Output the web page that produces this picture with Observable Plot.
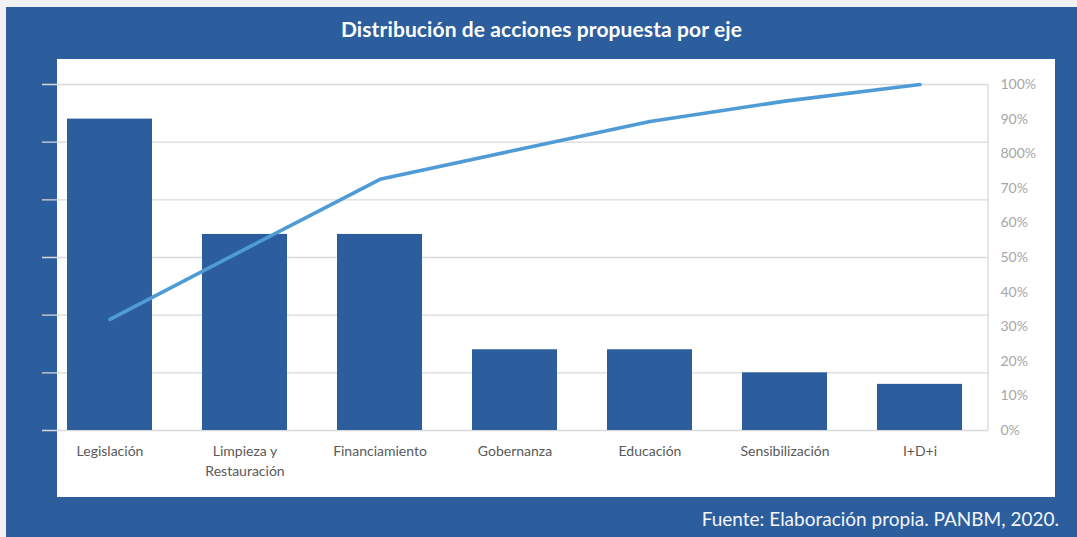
<!DOCTYPE html>
<html>
<head>
<meta charset="utf-8">
<script src="https://cdn.jsdelivr.net/npm/d3@7"></script>
<script src="https://cdn.jsdelivr.net/npm/@observablehq/plot@0.6"></script>
<style>
  html, body { margin: 0; padding: 0; background: #f1f1f3; }
  #page { position: relative; width: 1077px; height: 537px; overflow: hidden; font-family: Lato, "Open Sans", sans-serif; }
  #frame { position: absolute; left: 6px; top: 7px; width: 1071px; height: 530px; background: #2c5d9d; }
  #panel { position: absolute; left: 57px; top: 59px; width: 998px; height: 438px; background: #ffffff; }
  #title { position: absolute; left: 6px; width: 1071px; top: 16px; text-align: center; color: #ffffff; font-weight: 700; font-size: 21px; letter-spacing: 0.1px; }
  #caption { position: absolute; right: 18px; top: 507px; color: #f4f6fb; font-size: 19px; }
  #chart { position: absolute; left: 0; top: 0; }
</style>
</head>
<body>
<div id="page">
  <div id="frame"></div>
  <div id="panel"></div>
  <div id="title">Distribución de acciones propuesta por eje</div>
  <div id="chart"></div>
  <div id="caption">Fuente: Elaboración propia. PANBM, 2020.</div>
</div>
<script>
// Categories (axis labels), counts (bars, left axis) and cumulative percentage (line, right axis)
const categories = ["Legislación", "Limpieza y\nRestauración", "Financiamiento", "Gobernanza", "Educación", "Sensibilización", "I+D+i"];
const counts = [27, 17, 17, 7, 7, 5, 4];
const cumulativePct = [32.1, 52.4, 72.6, 81.0, 89.3, 95.2, 100];
const leftTicks = [0, 5, 10, 15, 20, 25, 30];
const rightTickPct = [0, 10, 20, 30, 40, 50, 60, 70, 80, 90, 100];
const rightTickLabels = ["0%", "10%", "20%", "30%", "40%", "50%", "60%", "70%", "800%", "90%", "100%"];

const yMax = 30;
const toY = p => p * yMax / 100;
const rows = categories.map((c, i) => ({cat: c, count: counts[i], cum: cumulativePct[i]}));
const rightTicks = rightTickPct.map(toY);

const rightLine = (index, scales, values, dims) => {
  const ns = "http://www.w3.org/2000/svg";
  const l = document.createElementNS(ns, "line");
  const x = dims.width - dims.marginRight;
  l.setAttribute("x1", x); l.setAttribute("x2", x);
  l.setAttribute("y1", dims.marginTop); l.setAttribute("y2", dims.height - dims.marginBottom);
  l.setAttribute("stroke", "#d9d9d9"); l.setAttribute("stroke-width", 1.3);
  return l;
};

const chart = Plot.plot({
  width: 1077,
  height: 537,
  marginLeft: 42,
  marginRight: 89,
  marginTop: 84,
  marginBottom: 107,
  style: {background: "transparent", fontFamily: "Lato, 'Open Sans', sans-serif"},
  x: {domain: categories, paddingInner: 0.37, paddingOuter: 0.185, label: null},
  y: {domain: [0, yMax], label: null},
  marks: [
    Plot.gridY(leftTicks, {stroke: "#d9d9d9", strokeOpacity: 1, strokeWidth: 1.3}),
    rightLine,
    Plot.barY(rows, {x: "cat", y: "count", fill: "#2c5d9d"}),
    Plot.lineY(rows, {x: "cat", y: d => toY(d.cum), stroke: "#4e9bd6", strokeWidth: 3.6, strokeLinecap: "round", strokeLinejoin: "round"}),
    Plot.axisY(rightTicks, {anchor: "right", tickSize: 0, tickPadding: 12, textAnchor: "start", fontSize: 14, fill: "#a6a6a6", tickFormat: d => rightTickLabels[rightTicks.indexOf(d)], label: null}),
    Plot.axisX({tickSize: 0, tickPadding: 11, fontSize: 14, lineHeight: 1.45, fill: "#595959", label: null})
  ]
});
document.getElementById("chart").appendChild(chart);
</script>
</body>
</html>
